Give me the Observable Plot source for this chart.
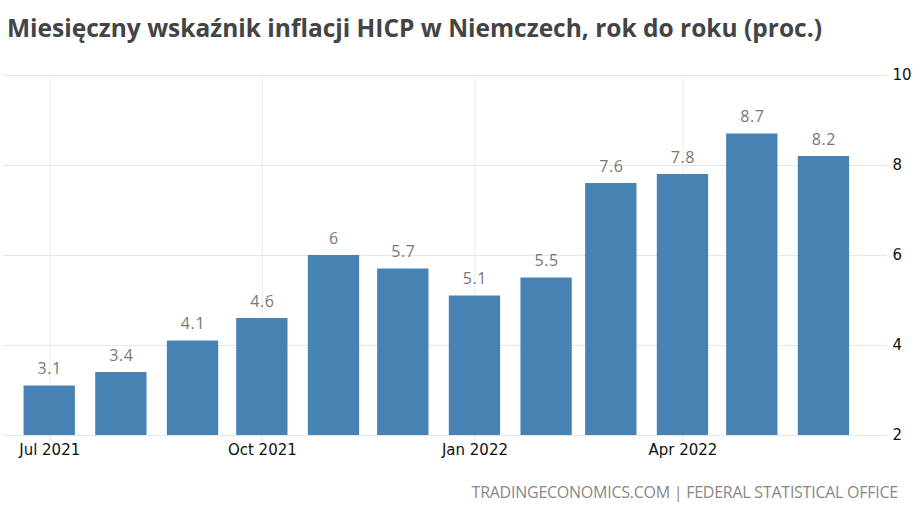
<!DOCTYPE html>
<html><head><meta charset="utf-8">
<script src="https://cdn.jsdelivr.net/npm/d3@7"></script>
<script src="https://cdn.jsdelivr.net/npm/@observablehq/plot@0.6"></script>
<style>
body{margin:0;background:#fff;width:920px;height:517px;overflow:hidden;position:relative}
#title{position:absolute;left:7px;top:11px;font-family:"Open Sans",sans-serif;font-weight:bold;font-size:24.5px;color:#444;white-space:nowrap}
#chart{position:absolute;left:0;top:60px}
#caption{position:absolute;right:22px;top:481px;font-family:"Open Sans",sans-serif;font-size:16px;color:#888;letter-spacing:-0.25px;white-space:nowrap}
.vlabels text{letter-spacing:0.6px}
</style></head><body>
<div id="title">Miesięczny wskaźnik inflacji HICP w Niemczech, rok do roku (proc.)</div>
<div id="chart"></div>
<div id="caption">TRADINGECONOMICS.COM | FEDERAL STATISTICAL OFFICE</div>
<script>
const months = ["2021-07","2021-08","2021-09","2021-10","2021-11","2021-12","2022-01","2022-02","2022-03","2022-04","2022-05","2022-06"];
const values = [3.1, 3.4, 4.1, 4.6, 6, 5.7, 5.1, 5.5, 7.6, 7.8, 8.7, 8.2];
const xTickMonths = ["2021-07","2021-10","2022-01","2022-04"];
const yTicks = [2, 4, 6, 8, 10];

const data = months.map((m, i) => ({date: new Date(m + "-01T00:00:00Z"), value: values[i]}));
const xTickDates = xTickMonths.map(m => new Date(m + "-01T00:00:00Z"));
const day = 864e5, half = 11.1 * day, padL = 20 * day, padR = 27.5 * day;
const first = data[0].date, last = data[data.length - 1].date;

const plot = Plot.plot({
  width: 920, height: 410,
  marginTop: 15, marginBottom: 35, marginLeft: 3, marginRight: 33,
  style: {fontFamily: "DejaVu Sans", fontSize: "15px", color: "#111", background: "transparent"},
  x: {type: "utc", domain: [new Date(+first - padL), new Date(+last + padR)], label: null},
  y: {domain: [yTicks[0], yTicks[yTicks.length - 1]], label: null},
  marks: [
    Plot.gridY(yTicks, {stroke: "#e6e6e6", strokeOpacity: 1}),
    Plot.gridX(xTickDates, {stroke: "#ebebeb", strokeOpacity: 1}),
    Plot.rectY(data, {x1: d => new Date(+d.date - half), x2: d => new Date(+d.date + half), y1: yTicks[0], y2: "value", fill: "#4682b4"}),
    Plot.text(data, {x: "date", y: "value", text: d => String(d.value), dy: -17, fill: "#777", fontSize: 16, fontFamily: "Open Sans", className: "vlabels"}),
    Plot.axisX(xTickDates, {tickSize: 6, tickPadding: 3, stroke: "#e0e0e0", fill: "#111", tickFormat: d3.utcFormat("%b %Y")}),
    Plot.axisY(yTicks, {anchor: "right", tickSize: 0, tickPadding: 5, fill: "#111"})
  ]
});
document.getElementById("chart").appendChild(plot);
</script>
</body></html>
